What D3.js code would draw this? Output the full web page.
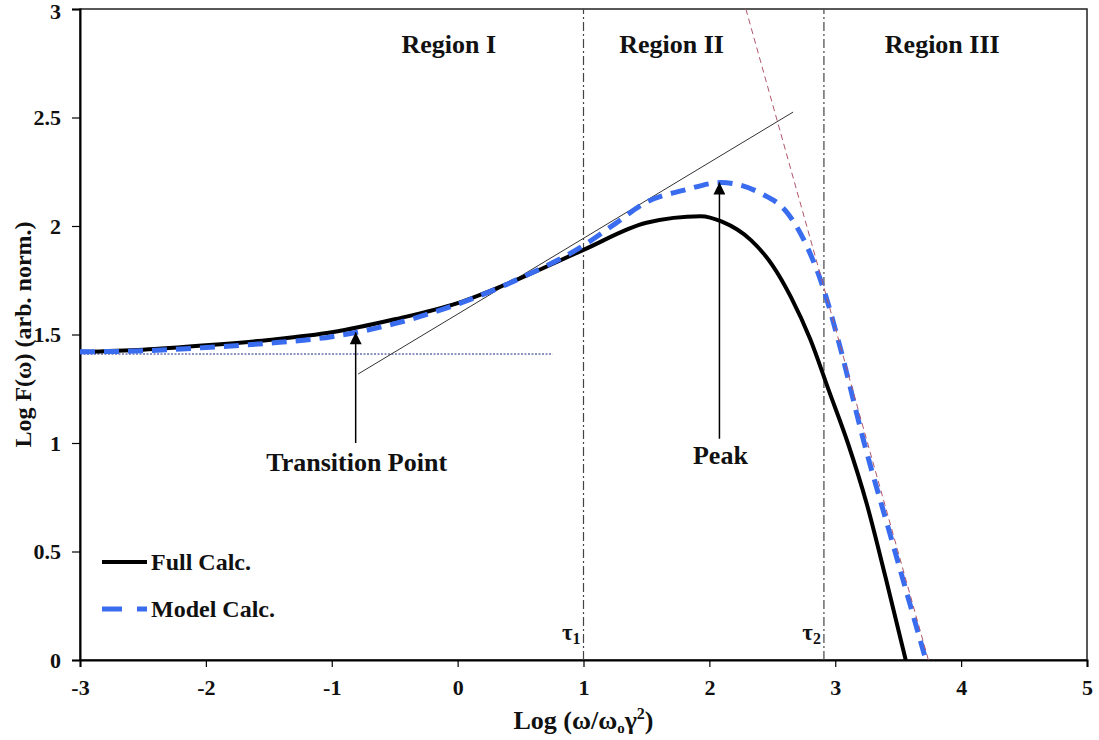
<!DOCTYPE html>
<html>
<head>
<meta charset="utf-8">
<script src="https://cdn.jsdelivr.net/npm/d3@7/dist/d3.min.js"></script>
<style>
  body { margin: 0; background: #fff; }
  svg text { font-family: "Liberation Serif", "Times New Roman", serif; font-weight: bold; fill: #111; }
</style>
</head>
<body>
<svg id="chart" width="1099" height="740"></svg>
<script>
// values
var xTicks = [-3, -2, -1, 0, 1, 2, 3, 4, 5];
var yTicks = [0, 0.5, 1, 1.5, 2, 2.5, 3];

var fullX = [-3, -2.5, -2, -1.5, -1, -0.5, 0, 0.5, 1, 1.5, 1.93, 2.1, 2.33, 2.5, 2.65, 2.8, 2.95, 3.1, 3.25, 3.4, 3.56];
var fullY = [1.42, 1.43, 1.45, 1.475, 1.51, 1.57, 1.645, 1.76, 1.89, 2.015, 2.045, 2.02, 1.935, 1.82, 1.67, 1.48, 1.24, 1.0, 0.72, 0.38, 0];

var modelX = [-3, -2.5, -2, -1.5, -1, -0.5, 0, 0.5, 1, 1.25, 1.5, 1.8, 2.09, 2.41, 2.62, 2.78, 2.91, 3.03, 3.23, 3.45, 3.72];
var modelY = [1.42, 1.425, 1.44, 1.46, 1.49, 1.55, 1.64, 1.76, 1.91, 2.01, 2.11, 2.165, 2.2, 2.15, 2.06, 1.9, 1.705, 1.46, 1.0, 0.55, 0];

var tangentX = [-0.79, 2.665];
var tangentY = [1.318, 2.525];
var slopeX = [2.29, 3.74];
var slopeY = [3, 0];
var flatX = [-3, 0.755];
var flatY = [1.41, 1.41];

var tauX = [1, 2.91];
var tauNames = ["1", "2"];

var regionX = [-0.07, 1.7, 3.85];
var regionNames = ["Region I", "Region II", "Region III"];

var svg = d3.select("#chart");
var mLeft = 80, mRight = 1087, mTop = 9, mBottom = 660;

var x = d3.scaleLinear().domain([-3, 5]).range([mLeft, mRight]);
var y = d3.scaleLinear().domain([0, 3]).range([mBottom, mTop]);

function pts(xs, ys) {
  return xs.map(function (d, i) { return [d, ys[i]]; });
}

var line = d3.line().x(d => x(d[0])).y(d => y(d[1]));
var smooth = d3.line().x(d => x(d[0])).y(d => y(d[1])).curve(d3.curveMonotoneX);

// arrow head
svg.append("defs").append("marker")
  .attr("id", "head")
  .attr("viewBox", "0 0 10 10")
  .attr("refX", 10).attr("refY", 5)
  .attr("markerWidth", 13).attr("markerHeight", 12)
  .attr("markerUnits", "userSpaceOnUse")
  .attr("orient", "auto")
  .append("path").attr("d", "M0,0 L10,5 L0,10 Z").attr("fill", "#000");

// plot border
svg.append("rect")
  .attr("x", mLeft).attr("y", mTop)
  .attr("width", mRight - mLeft).attr("height", mBottom - mTop)
  .attr("fill", "none").attr("stroke", "#222").attr("stroke-width", 1.5);

// axes
var yAxis = svg.append("g")
  .attr("transform", "translate(" + mLeft + ",0)")
  .call(d3.axisLeft(y).tickValues(yTicks).tickSize(8).tickPadding(11).tickFormat(d => String(d)));
var xAxis = svg.append("g")
  .attr("transform", "translate(0," + mBottom + ")")
  .call(d3.axisBottom(x).tickValues(xTicks).tickSize(7).tickPadding(12).tickFormat(d => String(d)));
[xAxis, yAxis].forEach(function (a) {
  a.select(".domain").attr("stroke", "#000").attr("stroke-width", 2);
  a.selectAll(".tick line").attr("stroke", "#000").attr("stroke-width", 1.2);
  a.selectAll("text").attr("font-size", 22).attr("fill", "#111")
    .attr("font-family", "Liberation Serif").attr("font-weight", "bold");
});
yAxis.selectAll(".tick").filter(d => d === 3).select("text").attr("dy", "0.45em");

// tau lines
svg.selectAll(".tau").data(tauX).enter().append("line")
  .attr("x1", d => x(d)).attr("x2", d => x(d))
  .attr("y1", y(0)).attr("y2", y(3))
  .attr("stroke", "#444").attr("stroke-width", 1.2)
  .attr("stroke-dasharray", "9,3,2,3");

var tau = svg.selectAll(".taulab").data(tauX).enter().append("text")
  .attr("x", d => x(d) - 3).attr("y", 640)
  .attr("text-anchor", "end").attr("font-size", 23);
tau.append("tspan").text("τ");
tau.append("tspan").attr("font-size", 16).attr("dy", 4).text((d, i) => tauNames[i]);

// guide lines
svg.append("path").datum(pts(flatX, flatY)).attr("d", line)
  .attr("fill", "none").attr("stroke", "#1a2a8a").attr("stroke-width", 1)
  .attr("stroke-dasharray", "2,1.5");
svg.append("path").datum(pts(tangentX, tangentY)).attr("d", line)
  .attr("fill", "none").attr("stroke", "#333").attr("stroke-width", 1);

// curves
svg.append("path").datum(pts(fullX, fullY)).attr("d", smooth)
  .attr("fill", "none").attr("stroke", "#000").attr("stroke-width", 4);
svg.append("path").datum(pts(modelX, modelY)).attr("d", smooth)
  .attr("fill", "none").attr("stroke", "#3a6cf0").attr("stroke-width", 5)
  .attr("stroke-dasharray", "15,9");

svg.append("path").datum(pts(slopeX, slopeY)).attr("d", line)
  .attr("fill", "none").attr("stroke", "#b0566a").attr("stroke-width", 1)
  .attr("stroke-dasharray", "6,4");

// region labels
svg.selectAll(".region").data(regionX).enter().append("text")
  .attr("x", d => x(d)).attr("y", 53)
  .attr("text-anchor", "middle").attr("font-size", 26)
  .text((d, i) => regionNames[i]);

// annotations
var notes = [
  { label: "Transition Point", x: -0.81, tip: 1.51, base: 1.0, ty: 471 },
  { label: "Peak", x: 2.08, tip: 2.2, base: 1.02, ty: 464 }
];
notes.forEach(function (n) {
  svg.append("line")
    .attr("x1", x(n.x)).attr("x2", x(n.x))
    .attr("y1", y(n.base)).attr("y2", y(n.tip))
    .attr("stroke", "#000").attr("stroke-width", 1.5)
    .attr("marker-end", "url(#head)");
  svg.append("text").attr("x", x(n.x) + 1).attr("y", n.ty)
    .attr("text-anchor", "middle").attr("font-size", 26).text(n.label);
});

// legend
var legend = [
  { label: "Full Calc.", color: "#000", dash: null, w: 4, y: 562 },
  { label: "Model Calc.", color: "#3a6cf0", dash: "20,15", w: 5, y: 609 }
];
legend.forEach(function (l) {
  svg.append("line").attr("x1", 102).attr("x2", 147)
    .attr("y1", l.y).attr("y2", l.y)
    .attr("stroke", l.color).attr("stroke-width", l.w)
    .attr("stroke-dasharray", l.dash);
  svg.append("text").attr("x", 151).attr("y", l.y + 8)
    .attr("font-size", 24).text(l.label);
});

// axis titles
var xt = svg.append("text").attr("x", (mLeft + mRight) / 2).attr("y", 729)
  .attr("text-anchor", "middle").attr("font-size", 26);
xt.append("tspan").text("Log (ω/ω");
xt.append("tspan").attr("font-size", 15).attr("dy", 4).text("o");
xt.append("tspan").attr("dy", -4).text("γ");
xt.append("tspan").attr("font-size", 16).attr("dy", -10).text("2");
xt.append("tspan").attr("dy", 10).text(")");

svg.append("text")
  .attr("transform", "translate(31," + (mTop + mBottom) / 2 + ") rotate(-90)")
  .attr("text-anchor", "middle").attr("font-size", 24)
  .text("Log F(ω) (arb. norm.)");
</script>
</body>
</html>
